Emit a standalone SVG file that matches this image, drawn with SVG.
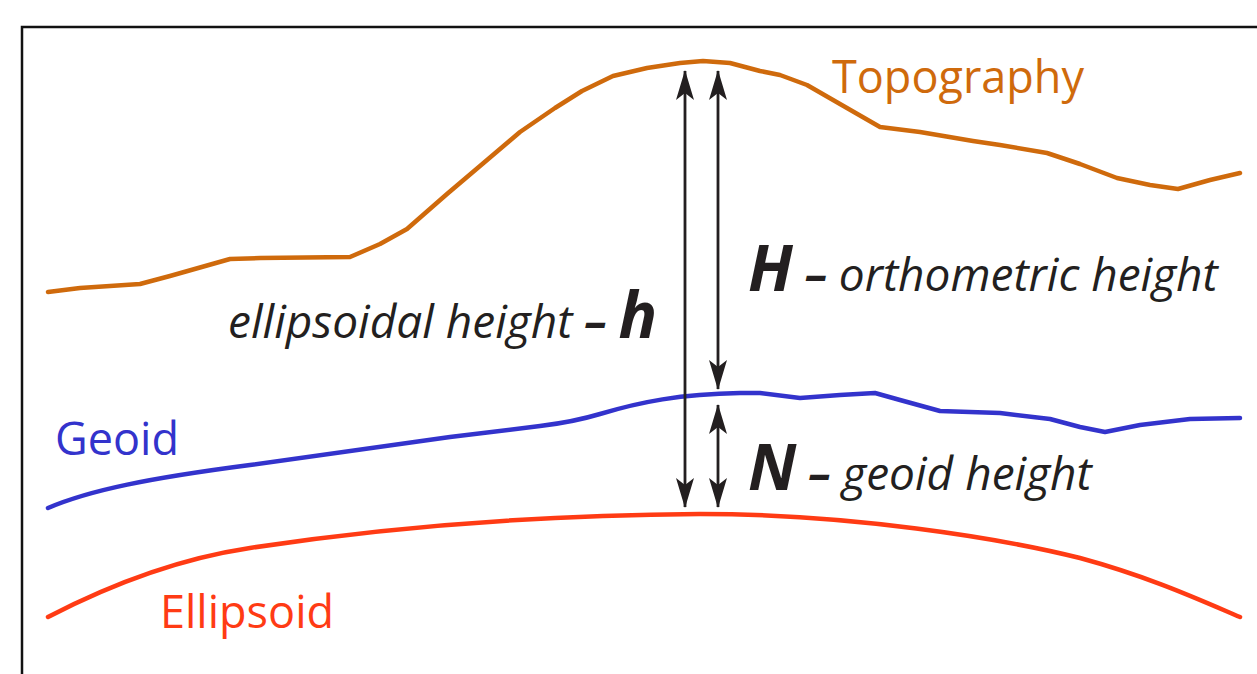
<svg xmlns="http://www.w3.org/2000/svg" width="1257" height="674" viewBox="0 0 1257 674">
<style>
.curve{fill:none;stroke-width:4.5;stroke-linejoin:round;stroke-linecap:round}
.arrow{stroke:#231f20;stroke-width:2.8;fill:none}
.lbl{font-family:"Open Sans","Noto Sans",sans-serif;font-size:45px}
.it{font-family:"Open Sans","Noto Sans",sans-serif;font-style:italic;font-size:46px;fill:#231f20}
.b{font-weight:bold}
.big{font-weight:bold;font-size:64px}
</style>
<defs>
<marker id="ah" viewBox="0 0 30 20" refX="29" refY="10" markerWidth="30" markerHeight="20" markerUnits="userSpaceOnUse" orient="auto-start-reverse">
<path d="M0,1 L30,10 L0,19 L7,10 Z" fill="#231f20"/>
</marker>
</defs>
<rect width="1257" height="674" fill="#fff"/>
<path d="M22,674 V27 H1257" fill="none" stroke="#111" stroke-width="2.5"/>
<g id="topography">
<polyline class="curve" stroke="#cf6a0c" points="48,292 80,288 140,284 170,276 230,259 260,258 350,257 380,244 407,229 447,194 480,166 520,132 555,108 582,91 613,76 647,68 680,63 703,61 730,63 760,71 780,75 807,85 840,104 880,127 920,132 973,141 1000,145 1047,153 1080,164 1117,178 1150,185 1178,189 1210,180 1240,173"/>
<text class="lbl" x="832" y="93" fill="#cf6a0c">Topography</text>
</g>
<g id="geoid">
<path class="curve" stroke="#3333cc" d="M48,508 C90,490 150,478 250,465 L450,437 L540,426 C565,423 580,420 600,414 C640,402 680,394 740,393 L760,393 L800,398 L840,395 L875,393 L900,400 L940,411 L1000,413 L1050,419 L1080,427 L1105,432 L1140,425 L1190,419 L1240,418"/>
<text class="lbl" x="55" y="455" fill="#3333cc">Geoid</text>
</g>
<g id="ellipsoid">
<path class="curve" stroke="#ff3b14" d="M48,617 C100,590 170,560 250,548 C400,525 550,515 700,514 C850,514 1000,538 1080,558 C1150,577 1200,600 1240,617"/>
<text class="lbl" x="160" y="628" fill="#ff3b14">Ellipsoid</text>
</g>
<g id="connectors">
<line class="arrow" x1="685" y1="71" x2="685" y2="507" marker-start="url(#ah)" marker-end="url(#ah)"/>
<line class="arrow" x1="718" y1="71" x2="718" y2="389" marker-start="url(#ah)" marker-end="url(#ah)"/>
<line class="arrow" x1="718" y1="405" x2="718" y2="507" marker-start="url(#ah)" marker-end="url(#ah)"/>
</g>
<g id="label-h">
<text class="it" x="228" y="338">ellipsoidal height <tspan class="b">–</tspan> <tspan class="big">h</tspan></text>
</g>
<g id="label-H">
<text class="it" x="748" y="291"><tspan class="big">H</tspan> <tspan class="b">–</tspan> orthometric height</text>
</g>
<g id="label-N">
<text class="it" x="748" y="490"><tspan class="big">N</tspan> <tspan class="b">–</tspan> geoid height</text>
</g>
</svg>
